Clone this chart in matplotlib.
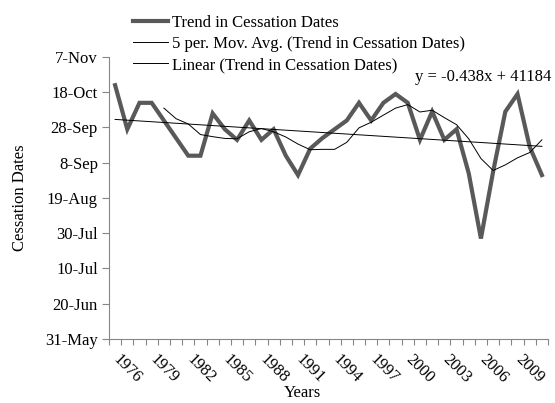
import datetime as dt
import numpy as np
import pandas as pd
import matplotlib
matplotlib.use("Agg")
import matplotlib.pyplot as plt
import matplotlib.dates as mdates
import matplotlib.transforms as mtransforms
from matplotlib.ticker import FixedLocator, FuncFormatter

plt.rcParams['font.family'] = ['Liberation Serif', 'DejaVu Serif']
plt.rcParams['font.size'] = 12

years = list(range(1976, 2012))
cessation = ["22-Oct", "27-Sep", "12-Oct", "12-Oct", "2-Oct", "22-Sep",
             "12-Sep", "12-Sep", "6-Oct", "27-Sep", "21-Sep", "2-Oct",
             "21-Sep", "27-Sep", "12-Sep", "1-Sep", "16-Sep", "22-Sep",
             "27-Sep", "2-Oct", "12-Oct", "2-Oct", "12-Oct", "17-Oct",
             "12-Oct", "21-Sep", "7-Oct", "21-Sep", "27-Sep", "2-Sep",
             "27-Jul", "3-Sep", "7-Oct", "17-Oct", "17-Sep", "1-Sep"]
label_years = list(range(1976, 2010, 3))
equation = "y = -0.438x + 41184"

# dates all placed in one year so only day/month matters
yvals = mdates.date2num([dt.datetime.strptime(s + "-2012", "%d-%b-%Y") for s in cessation])
ma = pd.Series(yvals).rolling(5).mean().values
xi = np.arange(1, len(years) + 1)
slope, icpt = np.polyfit(xi, yvals, 1)
trend = slope * xi + icpt

fig = plt.figure(figsize=(5.55, 4.03), dpi=100)
ax = fig.add_axes([109 / 555, 1 - 339 / 403, 439 / 555, 282 / 403])

l1, = ax.plot(years, yvals, color='#595959', lw=3.0, solid_joinstyle='miter')
l2, = ax.plot(years, ma, color='black', lw=0.7)
l3, = ax.plot(years, trend, color='black', lw=0.7)

start = mdates.date2num(dt.datetime(2012, 5, 31))
yt = [start + 20 * k for k in range(9)]
ax.set_ylim(yt[0], yt[-1])
ax.yaxis.set_major_locator(FixedLocator(yt))
ax.yaxis.set_major_formatter(FuncFormatter(
    lambda v, p: "%d-%s" % (mdates.num2date(v).day, mdates.num2date(v).strftime("%b"))))

ax.set_xlim(years[0] - 0.5, years[-1] + 0.5)
ax.set_xticks([y - 0.5 for y in years] + [years[-1] + 0.5])
ax.set_xticklabels([])
ax.set_xticks(label_years, minor=True)
ax.set_xticklabels([str(y) for y in label_years], minor=True,
                   rotation=-45, ha='left', va='top')
ax.tick_params(axis='x', which='minor', length=0, pad=9)
ax.tick_params(axis='x', which='major', length=4, direction='out', color='#868686')
ax.tick_params(axis='y', length=5, direction='out', color='#868686', pad=3)

shift = mtransforms.ScaledTranslation(-5 / 100, 0, fig.dpi_scale_trans)
for lab in ax.get_xticklabels(minor=True):
    lab.set_transform(lab.get_transform() + shift)

for s in ['top', 'right']:
    ax.spines[s].set_visible(False)
for s in ['left', 'bottom']:
    ax.spines[s].set_color('#868686')

ax.set_ylabel("Cessation Dates", va='center')
ax.yaxis.set_label_coords(-0.203, 0.5)
ax.set_xlabel("Years", va='center')
ax.xaxis.set_label_coords(0.44, -0.193)

fig.legend([l1, l2, l3],
           ["Trend in Cessation Dates",
            "5 per. Mov. Avg. (Trend in Cessation Dates)",
            "Linear (Trend in Cessation Dates)"],
           loc='upper left', bbox_to_anchor=(133 / 555, 1 - 15 / 403),
           frameon=False, borderpad=0, borderaxespad=0,
           handlelength=2.1, handletextpad=0.25, labelspacing=0.3)

fig.text(551 / 555, 1 - 77 / 403, equation, ha='right', va='center')

fig.savefig("out.png", dpi=100)
